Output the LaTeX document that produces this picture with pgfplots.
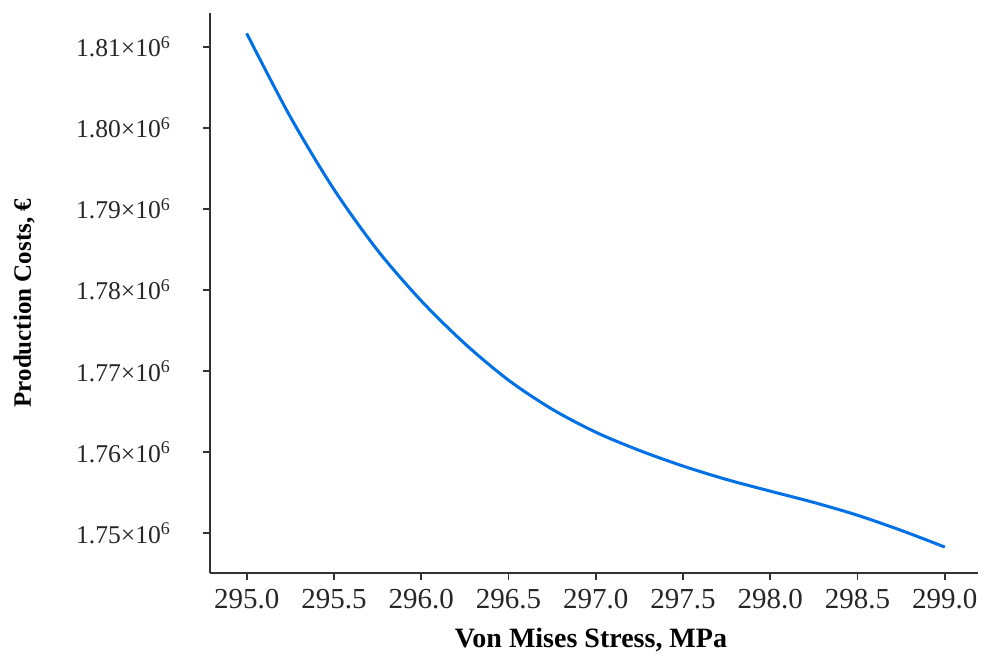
\documentclass[border=0pt]{standalone}
\usepackage{pgfplots}
\pgfplotsset{compat=1.18}
\usepackage{fontspec}
\setmainfont{Liberation Serif}
\definecolor{curveblue}{RGB}{0,112,230}
\definecolor{axgray}{RGB}{50,50,50}
\begin{document}
\begin{tikzpicture}
\begin{axis}[
  scale only axis,
  width=384pt, height=280pt,
  xmin=294.79, xmax=299.19,
  ymin=1745070, ymax=1814160,
  axis lines=left,
  axis line style={-, draw=axgray, line width=1pt},
  tick style={draw=axgray, line width=0.9pt},
  tick align=outside,
  major tick length=3.5pt,
  xtick={295,295.5,...,299},
  xticklabels={295.0,295.5,296.0,296.5,297.0,297.5,298.0,298.5,299.0},
  ytick={1750000,1760000,1770000,1780000,1790000,1800000,1810000},
  yticklabels={1.75×10\textsuperscript{6},1.76×10\textsuperscript{6},1.77×10\textsuperscript{6},1.78×10\textsuperscript{6},1.79×10\textsuperscript{6},1.80×10\textsuperscript{6},1.81×10\textsuperscript{6}},
  scaled y ticks=false,
  xticklabel style={font=\fontsize{14.5pt}{16pt}\selectfont, text=black!85, yshift=-1pt},
  yticklabel style={font=\fontsize{12.8pt}{15pt}\selectfont, text=black!85, xshift=-12.5pt},
  xlabel={\textbf{Von Mises Stress, MPa}},
  ylabel={\textbf{Production Costs, €}},
  xlabel style={font=\fontsize{14pt}{16pt}\selectfont, at={(axis description cs:0.496,-0.12)}, anchor=center},
  ylabel style={font=\fontsize{12.5pt}{15pt}\selectfont, at={(axis description cs:-0.242,0.482)}, anchor=center},
  clip=false,
]
\addplot[curveblue, line width=1.5pt, smooth] coordinates {
(295.00,1811650)
(295.25,1801350)
(295.50,1792403)
(295.75,1784883)
(296.00,1778656)
(296.25,1773364)
(296.50,1768864)
(296.75,1765281)
(297.00,1762441)
(297.25,1760192)
(297.50,1758265)
(297.75,1756602)
(298.00,1755169)
(298.25,1753771)
(298.50,1752193)
(298.75,1750327)
(299.00,1748270)
};
\end{axis}
\path (current axis.south west) ++(-105pt,-40pt) coordinate (bbA);
\path (current axis.north east) ++(13.5pt,6.5pt) coordinate (bbB);
\useasboundingbox (bbA) rectangle (bbB);
\end{tikzpicture}
\end{document}
